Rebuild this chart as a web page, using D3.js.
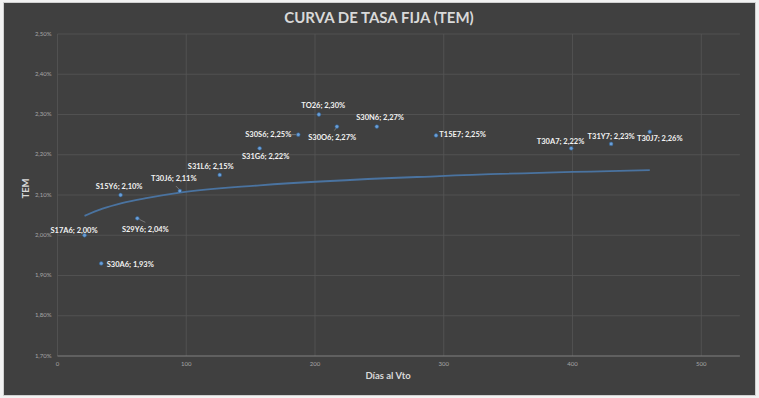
<!DOCTYPE html>
<html>
<head>
<meta charset="utf-8">
<script src="https://cdn.jsdelivr.net/npm/d3@7"></script>
<style>
  body { margin: 0; background: #f2f2f2; }
  svg { display: block; }
  .tick-label { fill: #a6a6a6; font-family: Lato, "Open Sans", sans-serif; font-size: 6px; }
  .pt-label { fill: #f2f2f2; font-family: Lato, "Open Sans", sans-serif; font-weight: bold; font-size: 7.5px; }
</style>
</head>
<body>
<svg id="chart" width="759" height="398"></svg>
<script>
// letras del tesoro: codigo, dias al vencimiento, TEM (%)
const codes = ["S17A6", "S30A6", "S29Y6", "S15Y6", "T30J6", "S31L6", "S31G6", "S30S6",
  "TO26", "S30O6", "S30N6", "T15E7", "T30A7", "T31Y7", "T30J7"];
const days = [21, 34, 62, 49, 95, 126, 157, 187, 203, 217, 248, 294, 399, 430, 460];
const tem = [2.00, 1.93, 2.042, 2.10, 2.11, 2.15, 2.216, 2.25, 2.30, 2.27, 2.27, 2.248, 2.216, 2.227, 2.257];

// linea de tendencia
const trendDays = [21, 35, 50, 70, 95, 157, 297, 460];
const trendTem = [2.048, 2.066, 2.080, 2.093, 2.106, 2.124, 2.147, 2.162];

const xTicks = [0, 100, 200, 300, 400, 500];
const yTicks = [1.70, 1.80, 1.90, 2.00, 2.10, 2.20, 2.30, 2.40, 2.50];

// ubicacion de etiquetas (dx, dy) y lineas guia
const labelPos = {
  S17A6: [-10.5, -4.3], S30A6: [29, 2], S29Y6: [8, 12], S15Y6: [-1.5, -8],
  T30J6: [-6, -12], S31L6: [-9, -7.5], S31G6: [6, 8.5], S30S6: [-30, 0],
  TO26: [4.4, -8], S30O6: [-4.7, 11.6], S30N6: [3.3, -8.7], T15E7: [26.6, 0],
  T30A7: [-10.7, -6.3], T31Y7: [0, -6.7], T30J7: [10, 7.3]
};
const leaders = {
  S30S6: [-7, 0, -2, 0], T30J6: [-4, -5, -1, -2], S29Y6: [2, 1, 8, 4], S30O6: [-2.5, 4, -0.7, 1.3]
};

const fmt = v => v.toFixed(2).replace(".", ",") + "%";

var svg = d3.select("#chart");

svg.append("rect")
  .attr("x", 3.5).attr("y", 2.5)
  .attr("width", 752).attr("height", 393)
  .attr("fill", "#404040")
  .attr("stroke", "#d0d0d0");

var x = d3.scaleLinear().domain([0, 530]).range([57.5, 739.9]);
var y = d3.scaleLinear().domain([1.70, 2.50]).range([356, 34]);

// grilla
svg.append("g").selectAll("line").data(yTicks.slice(1)).join("line")
  .attr("x1", x(0)).attr("x2", x(530))
  .attr("y1", d => y(d)).attr("y2", d => y(d))
  .attr("stroke", "#555555").attr("stroke-width", 0.8);
svg.append("g").selectAll("line").data(xTicks).join("line")
  .attr("x1", d => x(d)).attr("x2", d => x(d))
  .attr("y1", y(2.50)).attr("y2", y(1.70))
  .attr("stroke", "#555555").attr("stroke-width", 0.8);

svg.append("line")
  .attr("x1", x(0)).attr("x2", x(530))
  .attr("y1", y(1.70)).attr("y2", y(1.70))
  .attr("stroke", "#808080").attr("stroke-width", 1);

svg.append("g").selectAll("text").data(yTicks).join("text")
  .attr("class", "tick-label")
  .attr("x", 51.5).attr("y", d => y(d))
  .attr("text-anchor", "end").attr("dominant-baseline", "middle")
  .text(fmt);

svg.append("g").selectAll("text").data(xTicks).join("text")
  .attr("class", "tick-label")
  .attr("x", d => x(d)).attr("y", 364)
  .attr("text-anchor", "middle").attr("dominant-baseline", "middle")
  .text(d => d);

// titulos
svg.append("text")
  .attr("x", 379).attr("y", 19)
  .attr("text-anchor", "middle").attr("dominant-baseline", "middle")
  .attr("fill", "#d9d9d9")
  .style("font-family", "Lato, 'Open Sans', sans-serif")
  .style("font-weight", "bold").style("font-size", "15px")
  .text("CURVA DE TASA FIJA (TEM)");

svg.append("text")
  .attr("x", 388).attr("y", 377)
  .attr("text-anchor", "middle").attr("dominant-baseline", "middle")
  .attr("fill", "#d9d9d9")
  .style("font-family", "Lato, 'Open Sans', sans-serif")
  .style("font-weight", "bold").style("font-size", "9.5px")
  .text("Días al Vto");

svg.append("text")
  .attr("transform", "translate(27,188.5) rotate(-90)")
  .attr("text-anchor", "middle").attr("dominant-baseline", "middle")
  .attr("fill", "#d9d9d9")
  .style("font-family", "Lato, 'Open Sans', sans-serif")
  .style("font-weight", "bold").style("font-size", "9.5px")
  .text("TEM");

// tendencia
var trend = trendDays.map((d, i) => ({ d: d, v: trendTem[i] }));
svg.append("path")
  .datum(trend)
  .attr("fill", "none")
  .attr("stroke", "#4a73a0")
  .attr("stroke-width", 1.8)
  .attr("d", d3.line().curve(d3.curveMonotoneX).x(p => x(p.d)).y(p => y(p.v)));

var pts = codes.map((c, i) => ({ code: c, d: days[i], v: tem[i] }));

// lineas guia
svg.append("g").selectAll("line").data(pts.filter(p => leaders[p.code])).join("line")
  .attr("x1", p => x(p.d) + leaders[p.code][0]).attr("y1", p => y(p.v) + leaders[p.code][1])
  .attr("x2", p => x(p.d) + leaders[p.code][2]).attr("y2", p => y(p.v) + leaders[p.code][3])
  .attr("stroke", "#8c8c8c").attr("stroke-width", 0.7);

svg.append("g").selectAll("circle").data(pts).join("circle")
  .attr("cx", p => x(p.d)).attr("cy", p => y(p.v))
  .attr("r", 1.9)
  .attr("fill", "#6a9fd8")
  .attr("stroke", "#2f5d8c").attr("stroke-width", 0.6);

svg.append("g").selectAll("text").data(pts).join("text")
  .attr("class", "pt-label")
  .attr("x", p => x(p.d) + labelPos[p.code][0])
  .attr("y", p => y(p.v) + labelPos[p.code][1])
  .attr("text-anchor", "middle").attr("dominant-baseline", "middle")
  .attr("fill", p => p.code === "TO26" ? "#efe6c6" : null)
  .text(p => p.code + "; " + fmt(p.v));
</script>
</body>
</html>
